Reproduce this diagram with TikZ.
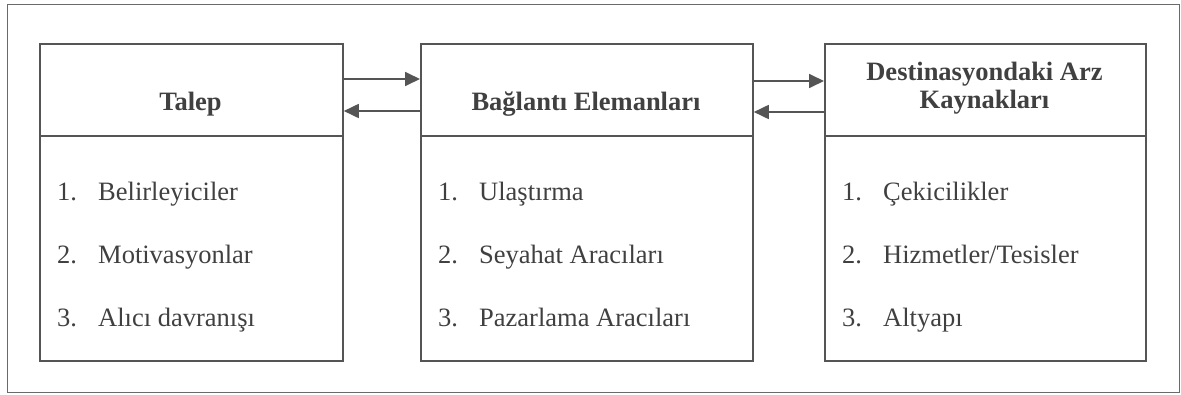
\documentclass[tikz,border=0pt]{standalone}
\usepackage{fontspec}
\setmainfont{Liberation Serif}
\usetikzlibrary{arrows.meta}
\definecolor{linegray}{HTML}{555555}
\definecolor{framegray}{HTML}{6A6A6A}
\definecolor{textgray}{HTML}{404040}
\tikzset{
  boxpart/.style={draw=linegray, line width=1.8pt, anchor=north west, inner sep=0pt},
  headtxt/.style={font=\fontsize{26.5}{28}\selectfont\bfseries, text=textgray, inner sep=0pt, align=center},
  itemtxt/.style={font=\fontsize{26.5}{30}\selectfont, text=textgray, inner sep=0pt, anchor=base west},
  arr/.style={draw=linegray, line width=1.8pt, -{Triangle[length=15pt,width=14pt]}},
}
\newcommand{\itm}[2]{\makebox[41pt][l]{#1}#2}
\begin{document}
\begin{tikzpicture}[x=1pt,y=-1pt]
\useasboundingbox (0,0) rectangle (1181,394);
\node[draw=framegray, line width=1.4pt, anchor=north west, minimum width=1172pt, minimum height=388pt, inner sep=0pt] (frame) at (7,4) {};
% left box
\node[boxpart, minimum width=303pt, minimum height=92pt] (lh) at (39,43) {};
\node[boxpart, minimum width=303pt, minimum height=225pt] (lb) at (39,135) {};
% middle box
\node[boxpart, minimum width=332pt, minimum height=92pt] (mh) at (420,43) {};
\node[boxpart, minimum width=332pt, minimum height=225pt] (mb) at (420,135) {};
% right box
\node[boxpart, minimum width=321pt, minimum height=92pt] (rh) at (824,43) {};
\node[boxpart, minimum width=321pt, minimum height=225pt] (rb) at (824,135) {};
% headers
\node[headtxt, anchor=base] (lt) at (190.5,110) {Talep};
\node[headtxt, anchor=base] (mt) at (586,110) {Bağlantı Elemanları};
\node[headtxt, anchor=center] (rt) at (984.5,88) {Destinasyondaki Arz\\Kaynakları};
% items
\node[itemtxt] (l1) at (57,200) {\itm{1.}{Belirleyiciler}};
\node[itemtxt] (l2) at (57,263) {\itm{2.}{Motivasyonlar}};
\node[itemtxt] (l3) at (57,326) {\itm{3.}{Alıcı davranışı}};
\node[itemtxt] (m1) at (438,200) {\itm{1.}{Ulaştırma}};
\node[itemtxt] (m2) at (438,263) {\itm{2.}{Seyahat Aracıları}};
\node[itemtxt] (m3) at (438,326) {\itm{3.}{Pazarlama Aracıları}};
\node[itemtxt] (r1) at (842,200) {\itm{1.}{Çekicilikler}};
\node[itemtxt] (r2) at (842,263) {\itm{2.}{Hizmetler/Tesisler}};
\node[itemtxt] (r3) at (842,326) {\itm{3.}{Altyapı}};
% arrows
\draw[arr] ([yshift=-36pt]lh.north east) -- ([yshift=-36pt]mh.north west);
\draw[arr] ([yshift=-68pt]mh.north west) -- ([yshift=-68pt]lh.north east);
\draw[arr] ([yshift=-38pt]mh.north east) -- ([yshift=-38pt]rh.north west);
\draw[arr] ([yshift=-69pt]rh.north west) -- ([yshift=-69pt]mh.north east);
\end{tikzpicture}
\end{document}
